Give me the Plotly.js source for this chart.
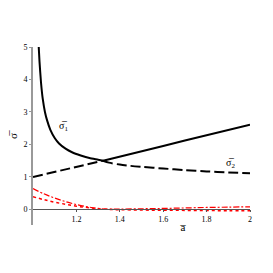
<!DOCTYPE html>
<html><head><meta charset="utf-8">
<script src="https://cdn.plot.ly/plotly-3.0.1.min.js"></script>
<style>html,body{margin:0;padding:0;background:#fff}#c{width:273px;height:273px}</style>
</head><body><div id="c"></div>
<script>
// sigma1 (solid): descending branch, then rising straight branch
const s1DownX = [1.024,1.03,1.037,1.045,1.055,1.065,1.08,1.10,1.12,1.15,1.18,1.22,1.26,1.30,1.323];
const s1DownY = [5.3,4.55,3.9,3.4,3.0,2.74,2.45,2.2,2.03,1.87,1.76,1.66,1.58,1.53,1.50];
const s1UpX = [1.323,1.4,1.5,1.6,1.7,1.8,1.9,2.0];
const s1UpY = [1.50,1.62,1.78,1.95,2.12,2.28,2.45,2.61];
// sigma2 (dashed): rising straight branch, then decaying branch
const s2UpX = [1.0,1.1,1.2,1.323];
const s2UpY = [1.0,1.15,1.30,1.50];
const s2DownX = [1.323,1.35,1.4,1.45,1.5,1.6,1.7,1.8,1.9,2.0];
const s2DownY = [1.50,1.44,1.38,1.34,1.31,1.26,1.21,1.17,1.14,1.11];
// red dash-dot
const rdX = [1.0,1.05,1.1,1.15,1.2,1.25,1.3,1.35,1.4,1.5,1.6,1.7,1.8,1.9,2.0];
const rdY = [0.64,0.48,0.35,0.24,0.15,0.08,0.03,0.01,0.01,0.02,0.03,0.045,0.06,0.07,0.08];
// red dotted
const rpX = [1.0,1.05,1.1,1.15,1.2,1.25,1.3,1.35,1.4,1.5,1.6,1.7,1.8,1.9,2.0];
const rpY = [0.39,0.30,0.22,0.16,0.10,0.06,0.02,0.0,-0.01,-0.02,-0.025,-0.03,-0.035,-0.04,-0.04];
const xTicks = [1.2,1.4,1.6,1.8,2];
const xTickText = ['1.2','1.4','1.6','1.8','2'];
const yTicks = [0,1,2,3,4,5];
const yMin = -0.48, yMax = 5;

const serif = 'Liberation Serif, DejaVu Serif, serif';
const solid = {color:'#000',width:2};
const dashed = {color:'#000',width:2,dash:'10px,4px'};
const traces = [
  {x:s1DownX,y:s1DownY,mode:'lines',line:Object.assign({shape:'spline',smoothing:0.6},solid),hoverinfo:'skip'},
  {x:s1UpX,y:s1UpY,mode:'lines',line:solid,hoverinfo:'skip'},
  {x:s2UpX,y:s2UpY,mode:'lines',line:dashed,hoverinfo:'skip'},
  {x:s2DownX,y:s2DownY,mode:'lines',line:Object.assign({shape:'spline',smoothing:0.8},dashed),hoverinfo:'skip'},
  {x:rdX,y:rdY,mode:'lines',line:{color:'#ff0000',width:1.2,dash:'6px,2px,2px,2px',shape:'spline'},hoverinfo:'skip'},
  {x:rpX,y:rpY,mode:'lines',line:{color:'#ff0000',width:1.5,dash:'dot',shape:'spline'},hoverinfo:'skip'}
];
const layout = {
  width:273,height:273,
  margin:{l:33,r:23,t:47,b:48},
  paper_bgcolor:'#fff',plot_bgcolor:'#fff',
  showlegend:false,
  font:{family:serif,size:8,color:'#000'},
  xaxis:{range:[1,2],anchor:'free',position:(0-yMin)/(yMax-yMin),
    tickvals:xTicks,ticktext:xTickText,showgrid:false,zeroline:false,
    showline:true,linecolor:'#555',linewidth:1,ticks:'outside',ticklen:2,tickcolor:'#555',
    tickfont:{family:serif,size:8}},
  yaxis:{range:[yMin,yMax],tickvals:yTicks,showgrid:false,zeroline:false,
    showline:true,linecolor:'#999',linewidth:2,ticks:'outside',ticklen:2,tickcolor:'#999',
    tickfont:{family:serif,size:8},
    title:{text:'σ̅',font:{family:serif,size:11},standoff:4}},
  annotations:[
    {x:1.69,y:-0.013,xref:'x',yref:'paper',yanchor:'middle',text:'a̅',showarrow:false,font:{family:serif,size:11}},
    {x:1.14,y:2.54,xref:'x',yref:'y',text:'σ̅<sub>1</sub>',showarrow:false,font:{family:serif,size:10}},
    {x:1.91,y:1.4,xref:'x',yref:'y',text:'σ̅<sub>2</sub>',showarrow:false,font:{family:serif,size:10}}
  ]
};
Plotly.newPlot('c',traces,layout,{staticPlot:true,displayModeBar:false});
</script></body></html>
